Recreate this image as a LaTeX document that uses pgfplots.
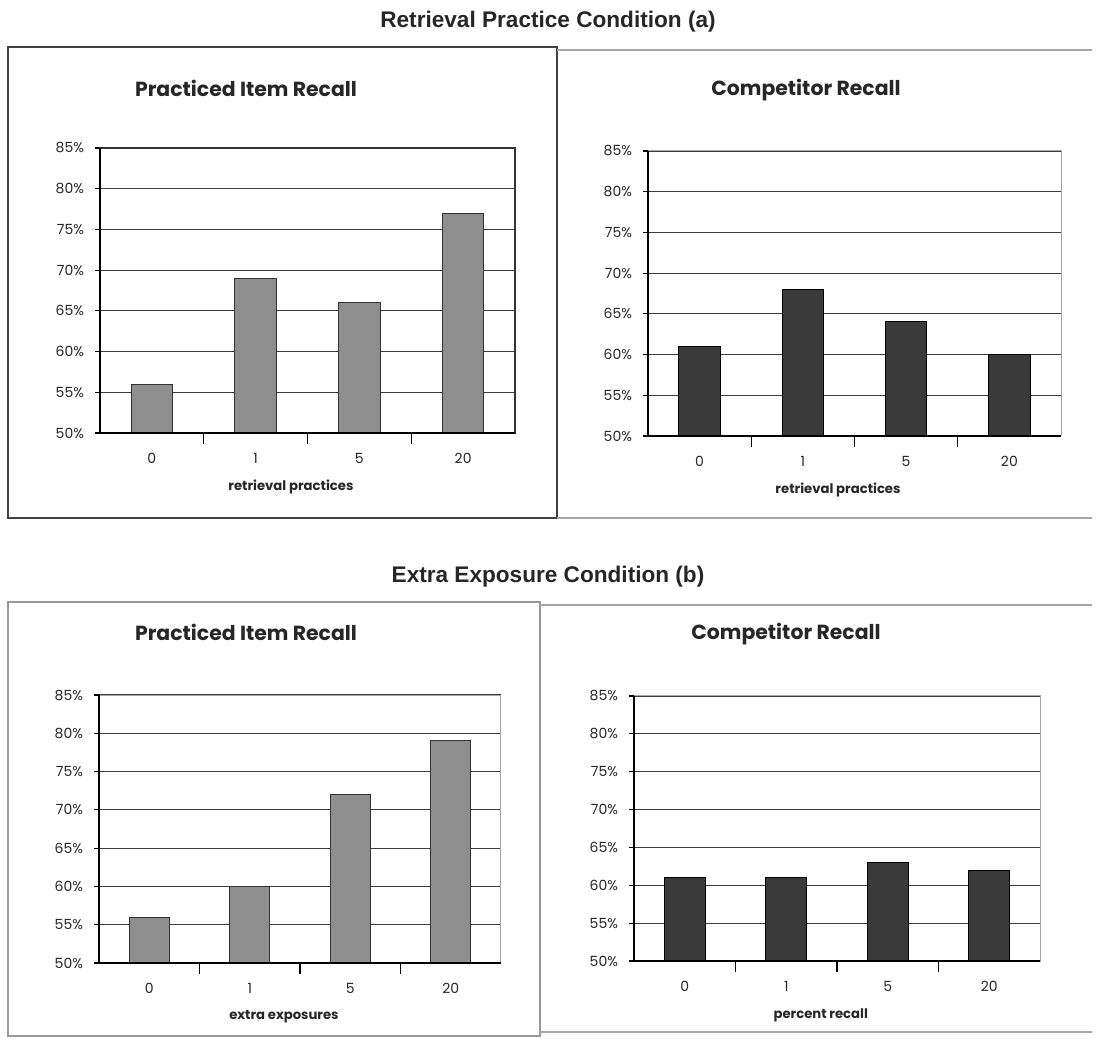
\documentclass[border=0pt]{standalone}
\usepackage{pgfplots}
\pgfplotsset{compat=1.18}
\usepackage{fontspec}
\setmainfont{Poppins}
\newfontfamily\titlefont{Liberation Sans}
\definecolor{lightbar}{HTML}{8E8E8E}
\definecolor{darkbar}{HTML}{3A3A3A}
\definecolor{gridc}{HTML}{3C3C3C}
\pgfplotsset{
  panel/.style={
    scale only axis,
    anchor=south west,
    xmin=-0.5, xmax=3.5,
    ymin=50, ymax=85,
    xtick={0,1,2,3},
    xticklabels={0,1,5,20},
    major x tick style={draw=none},
    minor xtick={0.5,1.5,2.5},
    minor tick length=5.5pt,
    xtick align=center,
    xtick pos=bottom,
    ytick pos=left,
    ytick={50,55,60,65,70,75,80,85},
    yticklabels={50\%,55\%,60\%,65\%,70\%,75\%,80\%,85\%},
    ytick align=outside,
    major tick length=2.5pt,
    ymajorgrids,
    major grid style={draw=gridc, line width=0.6pt},
    axis line style={draw=gray!70, line width=0.5pt},
    tick style={draw=black, line width=0.6pt},
    ticklabel style={font=\fontsize{7}{8}\selectfont, text=black!85},
    xticklabel style={yshift=-4pt},
    yticklabel style={xshift=-2pt},
    xlabel style={at={(rel axis cs:0.46,0)}, anchor=center, yshift=-27pt, font=\fontsize{6.6}{8}\selectfont\bfseries, text=black!85},
    ybar, bar width=0.4,
    clip=false,
  },
  lightbars/.style={fill=lightbar, draw=black!80, line width=0.5pt},
  darkbars/.style={fill=darkbar, draw=black, line width=0.5pt},
}
\newcommand{\blaxes}{\draw[black, line width=0.7pt] (rel axis cs:0,1) -- (rel axis cs:0,0) -- (rel axis cs:1,0);}
\begin{document}
\begin{tikzpicture}
\path[use as bounding box] (0,0) rectangle (548pt,519pt);

% frames
\draw[black!75, line width=0.6pt] (4pt,495.5pt) rectangle (278.5pt,260pt);
\draw[gray!70, line width=0.6pt] (278.5pt,494pt) -- (546pt,494pt);
\draw[gray!70, line width=0.6pt] (278.5pt,260pt) -- (546pt,260pt);
\draw[gray!80, line width=0.6pt] (4pt,218pt) rectangle (270pt,1pt);
\draw[gray!70, line width=0.6pt] (270pt,216.5pt) -- (546pt,216.5pt);
\draw[gray!70, line width=0.6pt] (270pt,3pt) -- (546pt,3pt);

% main titles
\node[font=\titlefont\fontsize{11.3}{13}\selectfont\bfseries, text=black!85] at (274pt,508pt) {Retrieval Practice Condition (a)};
\node[font=\titlefont\fontsize{11.3}{13}\selectfont\bfseries, text=black!85] at (274pt,230.5pt) {Extra Exposure Condition (b)};

% panel titles
\node[font=\fontsize{10.2}{12}\selectfont\bfseries, text=black!85] at (123pt,475pt) {Practiced Item Recall};
\node[font=\fontsize{10.2}{12}\selectfont\bfseries, text=black!85] at (403pt,474pt) {Competitor Recall};
\node[font=\fontsize{10.2}{12}\selectfont\bfseries, text=black!85] at (123pt,203pt) {Practiced Item Recall};
\node[font=\fontsize{10.2}{12}\selectfont\bfseries, text=black!85] at (393pt,202pt) {Competitor Recall};

% top left
\begin{axis}[panel, at={(50pt,302.5pt)}, width=207.5pt, height=142.5pt,
  xlabel={retrieval practices}, axis line style={draw=black!80, line width=0.6pt}]
\addplot[lightbars] coordinates {(0,56) (1,69) (2,66) (3,77)};
\blaxes
\end{axis}

% top right
\begin{axis}[panel, at={(324pt,301pt)}, width=206.5pt, height=142.5pt,
  xlabel={retrieval practices}]
\addplot[darkbars] coordinates {(0,61) (1,68) (2,64) (3,60)};
\blaxes
\end{axis}

% bottom left
\begin{axis}[panel, at={(49.5pt,37.5pt)}, width=201pt, height=134pt,
  xlabel={extra exposures}]
\addplot[lightbars] coordinates {(0,56) (1,60) (2,72) (3,79)};
\blaxes
\end{axis}

% bottom right
\begin{axis}[panel, at={(317pt,38.5pt)}, width=203pt, height=132.5pt,
  xlabel={percent recall}]
\addplot[darkbars] coordinates {(0,61) (1,61) (2,63) (3,62)};
\blaxes
\end{axis}
\end{tikzpicture}
\end{document}
